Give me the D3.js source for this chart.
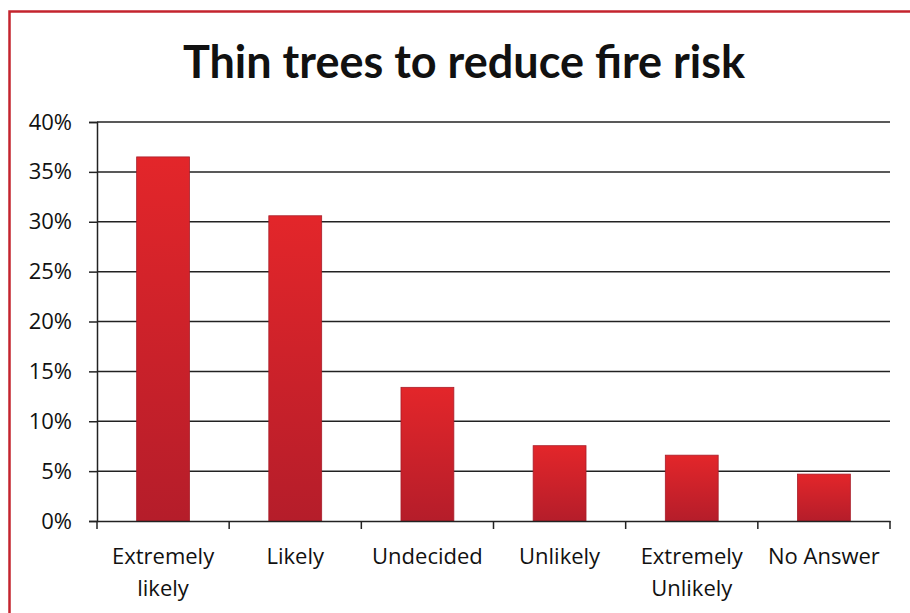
<!DOCTYPE html>
<html><head><meta charset="utf-8">
<script src="https://cdn.jsdelivr.net/npm/d3@7"></script>
<style>body{margin:0;background:#fff}svg{display:block}</style>
</head><body>
<script>
const title = "Thin trees to reduce fire risk";
const categories = [["Extremely","likely"],["Likely"],["Undecided"],["Unlikely"],["Extremely","Unlikely"],["No Answer"]];
const values = [0.365, 0.306, 0.134, 0.0755, 0.066, 0.047];
const yTicks = [0,0.05,0.10,0.15,0.20,0.25,0.30,0.35,0.40];

const W=910,H=613;
const svg=d3.select("body").append("svg").attr("width",W).attr("height",H);
const defs=svg.append("defs");
const g1=defs.append("linearGradient").attr("id","bar").attr("x1",0).attr("y1",0).attr("x2",0).attr("y2",1);
g1.append("stop").attr("offset","0%").attr("stop-color","#e3262a");
g1.append("stop").attr("offset","100%").attr("stop-color","#b51d2a");

// chart border
svg.append("path").attr("d","M9.5,613 L9.5,11.5 L912,11.5").attr("fill","none").attr("stroke","#c4242e").attr("stroke-width",2.5);

const m={l:97,r:890,t:122,b:521};
const keys=categories.map((c,i)=>i);
const x=d3.scaleBand().domain(keys).range([m.l,m.r]).paddingInner(0.6).paddingOuter(0.3);
const xb=d3.scaleBand().domain(keys).range([m.l,m.r]);
const y=d3.scaleLinear().domain([0,0.40]).range([m.b,m.t]);
const tfont="Lato, 'Open Sans', sans-serif";
const font="'Open Sans', Lato, sans-serif";

svg.append("text").attr("x",464).attr("y",78).attr("text-anchor","middle")
 .attr("font-family",tfont).attr("font-weight","bold").attr("font-size",45).attr("fill","#111").text(title);

// gridlines
svg.append("g").selectAll("line").data(yTicks.filter(d=>d>0)).join("line")
 .attr("x1",m.l).attr("x2",m.r).attr("y1",d=>y(d)).attr("y2",d=>y(d)).attr("stroke","#222").attr("stroke-width",1.5);

// bars
svg.append("g").selectAll("rect").data(values).join("rect")
 .attr("x",(d,i)=>x(i)).attr("width",x.bandwidth()).attr("y",d=>y(d)).attr("height",d=>y(0)-y(d))
 .attr("fill","url(#bar)").attr("stroke","#a81e2a").attr("stroke-width",0.8);

// y axis
const ya=svg.append("g").attr("transform",`translate(${m.l},0)`)
 .call(d3.axisLeft(y).tickValues(yTicks).tickFormat(d3.format(".0%")).tickSize(8).tickPadding(17));
ya.select(".domain").attr("stroke","#222").attr("stroke-width",1.5);
ya.selectAll(".tick line").attr("stroke","#222").attr("stroke-width",1.5);
ya.selectAll("text").attr("font-family",font).attr("font-size",22).attr("fill","#111");

// x axis
const xa=svg.append("g").attr("transform",`translate(0,${m.b})`)
 .call(d3.axisBottom(xb).tickValues([]).tickSize(0));
xa.select(".domain").attr("stroke","#222").attr("stroke-width",1.5);
const tickPos=keys.map(i=>xb(i)).concat([m.r]);
xa.selectAll("line.tk").data(tickPos).join("line").attr("class","tk")
 .attr("x1",d=>d).attr("x2",d=>d).attr("y1",0).attr("y2",8).attr("stroke","#222").attr("stroke-width",1.5);
const lbl=svg.append("g").selectAll("text").data(categories).join("text")
 .attr("x",(d,i)=>xb(i)+xb.bandwidth()/2).attr("y",m.b+43).attr("text-anchor","middle")
 .attr("font-family",font).attr("font-size",22).attr("fill","#111");
lbl.selectAll("tspan").data(d=>d).join("tspan").attr("x",function(){return this.parentNode.getAttribute("x");})
 .attr("dy",(d,j)=>j?32:0).text(d=>d);
</script>
</body></html>
